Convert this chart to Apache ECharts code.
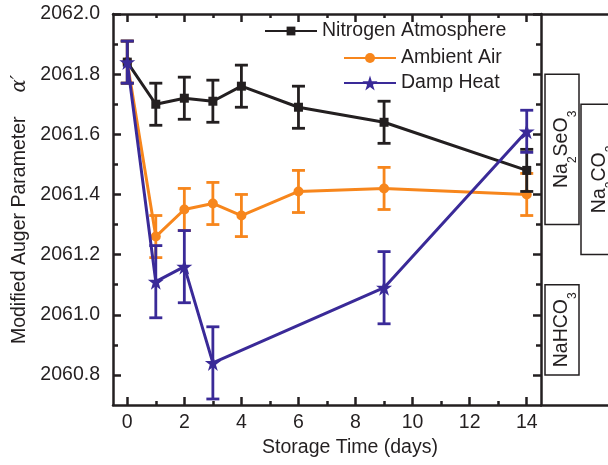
<!DOCTYPE html>
<html><head><meta charset="utf-8">
<script src="https://cdn.jsdelivr.net/npm/echarts@6/dist/echarts.min.js"></script>
<style>html,body{margin:0;padding:0;background:#fff}#c{width:608px;height:465px}</style>
</head><body><div id="c"></div>
<script>
// ---- data ----
var days = [0, 1, 2, 3, 4, 6, 9, 14];
var nitrogen = [2061.84, 2061.70, 2061.72, 2061.71, 2061.76, 2061.69, 2061.64, 2061.48];
var nitrogenErr = [0.07, 0.07, 0.07, 0.07, 0.07, 0.07, 0.07, 0.07];
var ambient = [2061.84, 2061.26, 2061.35, 2061.37, 2061.33, 2061.41, 2061.42, 2061.40];
var ambientErr = [0.07, 0.07, 0.07, 0.07, 0.07, 0.07, 0.07, 0.07];
var dampDays = [0, 1, 2, 3, 9, 14];
var damp = [2061.84, 2061.11, 2061.16, 2060.84, 2061.09, 2061.61];
var dampErr = [0.07, 0.12, 0.12, 0.12, 0.12, 0.07];

var compoundNames = ['Na2SeO3', 'Na2CO3', 'NaHCO3'];
var compoundColumn = [0, 1, 0];
var compoundLow = [2061.30, 2061.20, 2060.80];
var compoundHigh = [2061.80, 2061.70, 2061.10];

var xMin = -0.5, xMax = 14.5;
var yMin = 2060.7, yMax = 2062.0;
var xMajorTicks = [0, 2, 4, 6, 8, 10, 12, 14];
var xMinorTicks = [1, 3, 5, 7, 9, 11, 13];
var yMajorTicks = [2060.8, 2061.0, 2061.2, 2061.4, 2061.6, 2061.8, 2062.0];
var yMinorTicks = [2060.9, 2061.1, 2061.3, 2061.5, 2061.7, 2061.9];

var seriesNames = ['Nitrogen Atmosphere', 'Ambient Air', 'Damp Heat'];
var xTitle = 'Storage Time (days)';
var yTitle = 'Modified Auger Parameter';

// ---- styles ----
var FONT = '"Liberation Sans", Arial, sans-serif';
var INK = '#231f20';
var C_BLACK = '#231f20', C_ORANGE = '#f7861c', C_BLUE = '#3a2a98';
var FS = 19.5;
var LW = 3;
var STAR = 'path://M50 0 L61.23 34.55 L97.55 34.55 L68.17 55.9 L79.39 90.45 L50 69.1 L20.61 90.45 L31.83 55.9 L2.45 34.55 L38.77 34.55 Z';

function pairs(xs, ys) { return xs.map(function (x, i) { return [x, ys[i]]; }); }
function errData(xs, ys, es) { return xs.map(function (x, i) { return [x, ys[i] - es[i], ys[i] + es[i]]; }); }
function errRender(color) {
  return function (params, api) {
    var x = api.value(0), lo = api.value(1), hi = api.value(2);
    var a = api.coord([x, hi]), b = api.coord([x, lo]);
    var w = 6.5, st = { stroke: color, lineWidth: 2.8 };
    return { type: 'group', children: [
      { type: 'line', shape: { x1: a[0], y1: a[1], x2: b[0], y2: b[1] }, style: st },
      { type: 'line', shape: { x1: a[0] - w, y1: a[1], x2: a[0] + w, y2: a[1] }, style: st },
      { type: 'line', shape: { x1: b[0] - w, y1: b[1], x2: b[0] + w, y2: b[1] }, style: st }
    ]};
  };
}
function chemRich(name) {
  return name.replace(/([A-Za-z]+)|(\d+)/g, function (m, letters, digits) {
    return letters ? '{m|' + letters + '}' : '{s|' + digits + '}';
  });
}

function xAxisDef(grid, pos, ticks, len, labels, showLine) {
  return {
    type: 'value', gridIndex: grid, position: pos, min: xMin, max: xMax,
    axisLine: { show: showLine, onZero: false, lineStyle: { color: INK, width: 2.5 } },
    axisTick: { show: true, inside: true, length: len, customValues: ticks, lineStyle: { color: INK, width: 2.5 } },
    axisLabel: labels ? { show: true, customValues: ticks, margin: 8, fontSize: FS, color: INK, fontFamily: FONT } : { show: false },
    splitLine: { show: false }
  };
}
function yAxisDef(grid, pos, ticks, len, labels, showLine) {
  return {
    type: 'value', gridIndex: grid, position: pos, min: yMin, max: yMax,
    axisLine: { show: showLine, onZero: false, lineStyle: { color: INK, width: 2.5 } },
    axisTick: { show: true, inside: true, length: len, customValues: ticks, lineStyle: { color: INK, width: 2.5 } },
    axisLabel: labels ? { show: true, customValues: ticks, margin: 13, fontSize: FS, color: INK, fontFamily: FONT,
      formatter: function (v) { return v.toFixed(1); } } : { show: false },
    splitLine: { show: false }
  };
}

var xAxes = [
  xAxisDef(0, 'bottom', xMajorTicks, 8, true, true),
  xAxisDef(0, 'bottom', xMinorTicks, 4, false, false),
  xAxisDef(0, 'top', xMajorTicks, 8, false, true),
  xAxisDef(0, 'top', xMinorTicks, 4, false, false),
  { type: 'value', gridIndex: 1, position: 'bottom', min: 0, max: 2,
    axisLine: { show: true, onZero: false, lineStyle: { color: INK, width: 2.5 } },
    axisTick: { show: false }, axisLabel: { show: false }, splitLine: { show: false } },
  { type: 'value', gridIndex: 1, position: 'top', min: 0, max: 2,
    axisLine: { show: true, onZero: false, lineStyle: { color: INK, width: 2.5 } },
    axisTick: { show: false }, axisLabel: { show: false }, splitLine: { show: false } }
];
xAxes[0].name = xTitle;
xAxes[0].nameLocation = 'middle';
xAxes[0].nameGap = 31;
xAxes[0].nameTextStyle = { fontSize: FS, color: INK, fontFamily: FONT, padding: [0, 0, 0, 46] };

var yAxes = [
  yAxisDef(0, 'left', yMajorTicks, 8, true, true),
  yAxisDef(0, 'left', yMinorTicks, 5, false, false),
  yAxisDef(0, 'right', yMajorTicks, 8, false, true),
  yAxisDef(0, 'right', yMinorTicks, 5, false, false),
  { type: 'value', gridIndex: 1, min: yMin, max: yMax, show: false }
];
yAxes[0].name = yTitle + '{a|α\u2032}';
yAxes[0].nameLocation = 'middle';
yAxes[0].nameGap = 79;
yAxes[0].nameTextStyle = { fontSize: FS, color: INK, fontFamily: FONT,
  rich: { a: { fontSize: FS, color: INK, fontFamily: '"DejaVu Serif", serif', fontStyle: 'italic', padding: [0, 0, 0, 24] } } };

var legendBase = { orient: 'horizontal', padding: 0, selectedMode: false,
  textStyle: { fontSize: FS, color: INK, fontFamily: FONT } };
function legendDef(name, left, top, iw, ih) {
  return Object.assign({}, legendBase, { data: [name], left: left, top: top, itemWidth: iw, itemHeight: ih });
}

var option = {
  animation: false,
  backgroundColor: '#fff',
  grid: [
    { left: 113, top: 14, width: 428, height: 391, outerBoundsMode: 'none' },
    { left: 541, top: 14, width: 78, height: 391, outerBoundsMode: 'none' }
  ],
  xAxis: xAxes,
  yAxis: yAxes,
  legend: [
    legendDef(seriesNames[0], 264, 21, 52, 11),
    legendDef(seriesNames[1], 343, 48, 52, 12.5),
    legendDef(seriesNames[2], 343, 73, 52, 19)
  ],
  series: [
    { type: 'custom', xAxisIndex: 0, yAxisIndex: 0, z: 2, renderItem: errRender(C_ORANGE),
      encode: { x: 0, y: [1, 2] }, data: errData(days, ambient, ambientErr) },
    { name: seriesNames[1], type: 'line', xAxisIndex: 0, yAxisIndex: 0, z: 2, data: pairs(days, ambient),
      symbol: 'circle', symbolSize: 10, lineStyle: { color: C_ORANGE, width: LW }, itemStyle: { color: C_ORANGE } },
    { type: 'custom', xAxisIndex: 0, yAxisIndex: 0, z: 3, renderItem: errRender(C_BLACK),
      encode: { x: 0, y: [1, 2] }, data: errData(days, nitrogen, nitrogenErr) },
    { name: seriesNames[0], type: 'line', xAxisIndex: 0, yAxisIndex: 0, z: 3, data: pairs(days, nitrogen),
      symbol: 'rect', symbolSize: 9, lineStyle: { color: C_BLACK, width: LW }, itemStyle: { color: C_BLACK } },
    { type: 'custom', xAxisIndex: 0, yAxisIndex: 0, z: 4, renderItem: errRender(C_BLUE),
      encode: { x: 0, y: [1, 2] }, data: errData(dampDays, damp, dampErr) },
    { name: seriesNames[2], type: 'line', xAxisIndex: 0, yAxisIndex: 0, z: 4, data: pairs(dampDays, damp),
      symbol: STAR, symbolSize: 16, lineStyle: { color: C_BLUE, width: LW }, itemStyle: { color: C_BLUE } },
    { type: 'custom', xAxisIndex: 4, yAxisIndex: 4, z: 2, clip: false,
      encode: { x: 0, y: [1, 2] },
      data: compoundNames.map(function (n, i) { return [compoundColumn[i], compoundLow[i], compoundHigh[i]]; }),
      renderItem: function (params, api) {
        var col = api.value(0), lo = api.value(1), hi = api.value(2);
        var p0 = api.coord([col, hi]), p1 = api.coord([col + 1, lo]);
        var x0 = p0[0] + (col === 0 ? 4 : 1), x1 = p1[0] - (col === 0 ? 1 : 0);
        var cx = (x0 + x1) / 2, cy = (p0[1] + p1[1]) / 2;
        return { type: 'group', children: [
          { type: 'rect', shape: { x: x0, y: p0[1], width: x1 - x0, height: p1[1] - p0[1] },
            style: { fill: '#fff', stroke: INK, lineWidth: 1.5 } },
          { type: 'text', x: cx, y: cy, rotation: Math.PI / 2,
            style: { text: chemRich(compoundNames[params.dataIndex]), x: 0, y: 0, align: 'center', verticalAlign: 'middle',
              fill: INK, fontFamily: FONT,
              rich: {
                m: { fontSize: FS, lineHeight: 34, fill: INK, fontFamily: FONT },
                s: { fontSize: 12, lineHeight: 12, verticalAlign: 'bottom', fill: INK, fontFamily: FONT }
              } } }
        ]};
      } }
  ]
};
var chart = echarts.init(document.getElementById('c'), null, { renderer: 'canvas' });
chart.setOption(option);
</script>
</body></html>
